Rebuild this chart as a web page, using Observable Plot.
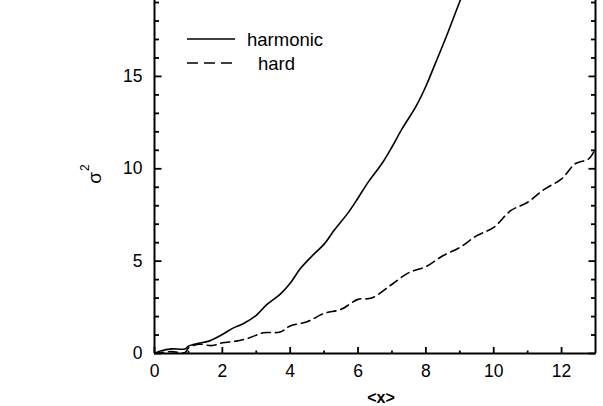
<!DOCTYPE html>
<html>
<head>
<meta charset="utf-8">
<script src="https://cdn.jsdelivr.net/npm/d3@7"></script>
<script src="https://cdn.jsdelivr.net/npm/@observablehq/plot@0.6"></script>
<style>
  html, body { margin: 0; padding: 0; background: #fff; }
  svg { font-family: "Liberation Sans", Arial, sans-serif; }
</style>
</head>
<body>
<div id="chart"></div>
<script>
const harmonicX = [0, 0.2, 0.5, 0.9, 1.0, 1.3, 1.6, 2.0, 2.3, 2.6, 3.0, 3.3, 3.7, 4.0, 4.3, 4.7, 5.0, 5.3, 5.7, 6.0, 6.3, 6.7, 7.0, 7.3, 7.7, 8.0, 8.3, 8.6, 9.0, 9.1];
const harmonicY = [0, 0.15, 0.25, 0.25, 0.4, 0.55, 0.67, 1.03, 1.36, 1.6, 2.07, 2.63, 3.2, 3.8, 4.6, 5.38, 5.92, 6.68, 7.6, 8.42, 9.28, 10.27, 11.18, 12.17, 13.35, 14.47, 15.8, 17.15, 19.06, 19.5];
const hardX = [0, 0.5, 0.9, 1.0, 1.3, 1.7, 2.0, 2.4, 2.8, 3.2, 3.7, 4.0, 4.5, 5.0, 5.5, 6.0, 6.4, 7.0, 7.5, 8.0, 8.5, 9.0, 9.5, 10.0, 10.5, 11.0, 11.5, 12.0, 12.4, 12.8, 13.0];
const hardY = [0, 0.1, 0.05, 0.3, 0.5, 0.43, 0.58, 0.67, 0.85, 1.12, 1.16, 1.49, 1.72, 2.17, 2.39, 2.93, 3.0, 3.75, 4.38, 4.7, 5.29, 5.74, 6.38, 6.83, 7.73, 8.19, 8.9, 9.45, 10.27, 10.54, 11.09];
const seriesNames = ["harmonic", "hard"];
const xMajor = [0, 2, 4, 6, 8, 10, 12];
const xMinor = [1, 3, 5, 7, 9, 11];
const yMajor = [0, 5, 10, 15];
const yMinor = [1, 2, 3, 4, 6, 7, 8, 9, 11, 12, 13, 14, 16, 17, 18, 19];
const xLabel = "<x>";
const yLabelBase = "σ";
const yLabelSup = "2";

const harmonic = harmonicX.map((x, i) => ({x, y: harmonicY[i]}));
const hard = hardX.map((x, i) => ({x, y: hardY[i]}));

const font = "Liberation Sans, Arial, sans-serif";
const chart = Plot.plot({
  width: 603,
  height: 406,
  marginLeft: 154,
  marginRight: 8,
  marginTop: 0,
  marginBottom: 53,
  style: {fontFamily: font, fontSize: "17px", background: "#fff", color: "#000"},
  x: {domain: [0, 13], label: null},
  y: {domain: [0, 19.11], label: null},
  marks: [
    Plot.line(harmonic, {x: "x", y: "y", stroke: "#000", strokeWidth: 1.6, curve: "catmull-rom", clip: true}),
    Plot.line(hard, {x: "x", y: "y", stroke: "#000", strokeWidth: 1.6, strokeDasharray: "9,5", curve: "catmull-rom", clip: true}),
    // left axis
    Plot.axisY({ticks: yMajor, tickSize: -7.5, tickPadding: 19.5, strokeWidth: 1.8, fontSize: 17.5, fill: "#000"}),
    Plot.axisY({ticks: yMinor, tickSize: -5, text: null, strokeWidth: 1.8}),
    // right axis
    Plot.axisY({anchor: "right", ticks: yMajor, tickSize: -7.5, text: null, strokeWidth: 1.8, label: null}),
    Plot.axisY({anchor: "right", ticks: yMinor, tickSize: -5, text: null, strokeWidth: 1.8, label: null}),
    // bottom axis
    Plot.axisX({ticks: xMajor, tickSize: -6, tickPadding: 17, strokeWidth: 1.8, fontSize: 17.5, fill: "#000", label: null}),
    Plot.axisX({ticks: xMinor, tickSize: -2.5, text: null, strokeWidth: 1.8, label: null}),
    Plot.ruleX([0, 13], {stroke: "#000", strokeWidth: 2}),
    Plot.ruleY([0], {stroke: "#000", strokeWidth: 2})
  ]
});

const svg = d3.select(chart);
// axis titles
const yt = svg.append("text")
  .attr("transform", "translate(101,174) rotate(-90)")
  .attr("text-anchor", "middle")
  .attr("font-size", 19)
  .attr("font-family", font)
  .attr("fill", "#000");
yt.append("tspan").text(yLabelBase);
yt.append("tspan").attr("font-size", 12).attr("dy", -12).attr("dx", 1).text(yLabelSup);

svg.append("text")
  .attr("x", 381).attr("y", 403)
  .attr("text-anchor", "middle")
  .attr("font-size", 16)
  .attr("font-weight", "bold")
  .attr("font-family", font)
  .attr("fill", "#000")
  .text(xLabel);

// legend
const legend = svg.append("g")
  .attr("font-family", font)
  .attr("font-size", 18.5)
  .attr("text-anchor", "start")
  .attr("fill", "#000");
const legendRows = [
  {name: seriesNames[0], dash: null, y: 39, tx: 247},
  {name: seriesNames[1], dash: "11,6", y: 63, tx: 258}
];
legendRows.forEach(r => {
  legend.append("line")
    .attr("x1", 187).attr("x2", 235)
    .attr("y1", r.y).attr("y2", r.y)
    .attr("stroke", "#000").attr("stroke-width", 1.6)
    .attr("stroke-dasharray", r.dash);
  legend.append("text")
    .attr("x", r.tx).attr("y", r.y + 7)
    .attr("text-anchor", "start")
    .style("font-size", "18.5px")
    .text(r.name);
});

document.getElementById("chart").appendChild(chart);
</script>
</body>
</html>
